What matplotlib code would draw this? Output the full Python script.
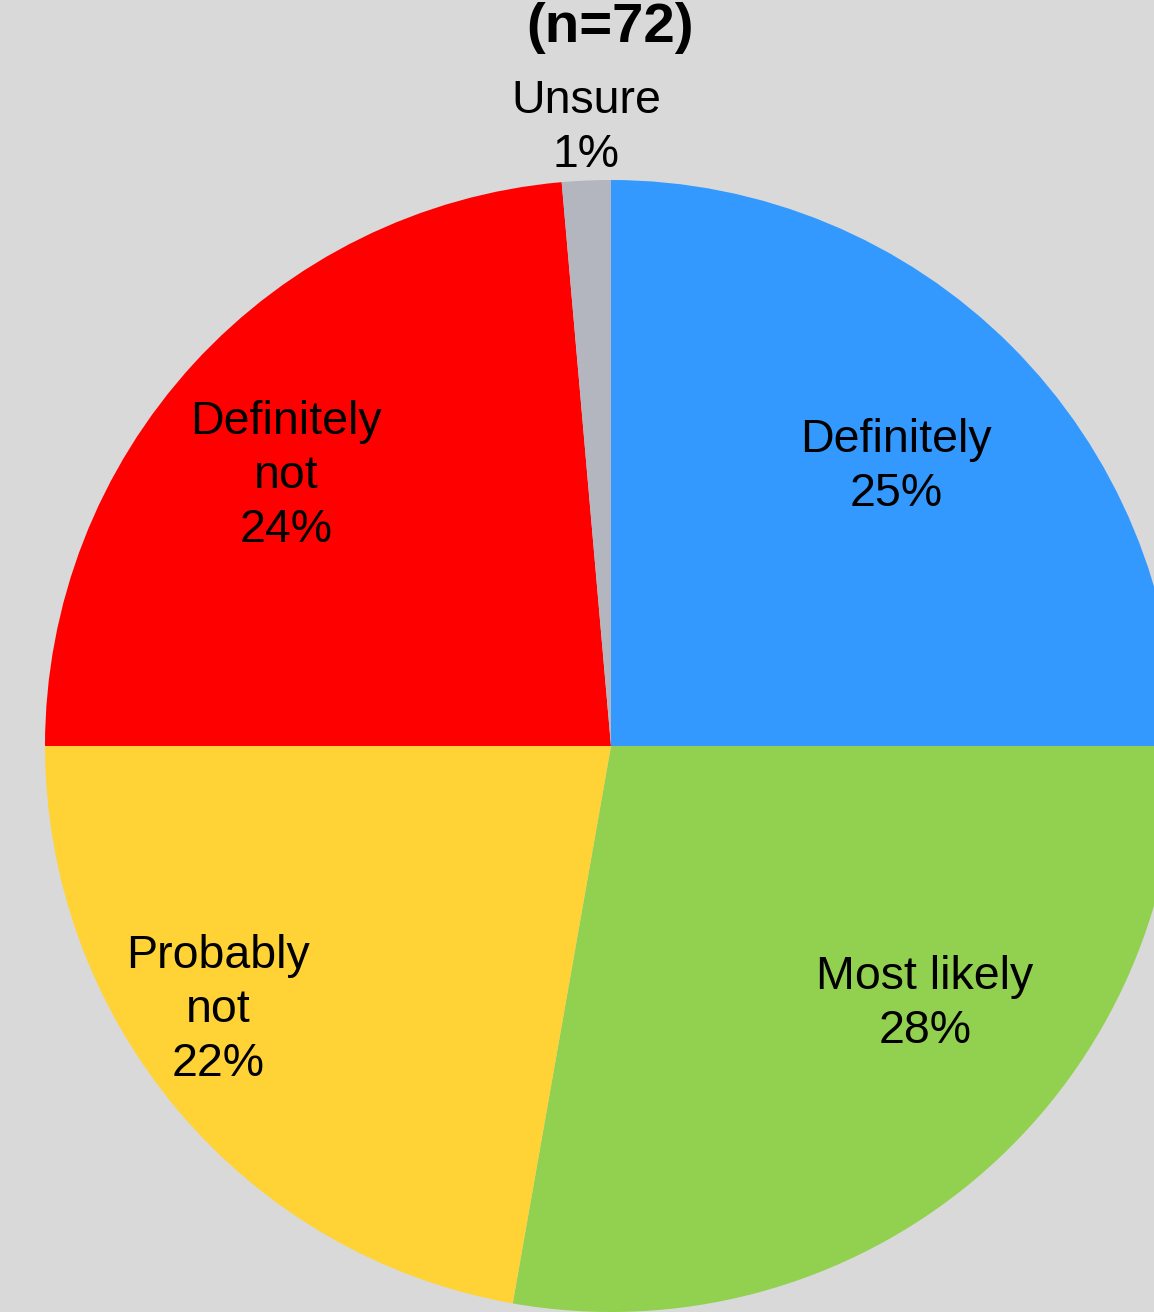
import matplotlib
matplotlib.use("Agg")
import matplotlib.pyplot as plt

# Data
categories = ["Definitely", "Most likely", "Probably not", "Definitely not", "Unsure"]
counts = [18, 20, 16, 17, 1]
percent_labels = ["25%", "28%", "22%", "24%", "1%"]
label_text = ["Definitely", "Most likely", "Probably\nnot", "Definitely\nnot", "Unsure"]
title_text = "(n=72)"

colors = ["#3399FF", "#92D050", "#FFD335", "#FF0000", "#B3B6BE"]
bg = "#D9D9D9"

# label centres in pixel coordinates of the reference
label_px = [(896, 467), (925, 1004), (218, 1010), (286, 476), (586, 128)]

W, H = 1154, 1312
cx, cy, R = 611, 746, 566

plt.rcParams["font.family"] = ["Liberation Sans", "DejaVu Sans"]

fig = plt.figure(figsize=(W / 100, H / 100), dpi=100, facecolor=bg)
ax = fig.add_axes([0, 0, 1, 1])
ax.set_facecolor(bg)

ax.pie(counts, colors=colors, startangle=90, counterclock=False, radius=1.0,
       center=(0, 0), wedgeprops=dict(linewidth=0), frame=True)

ax.set_xlim(-cx / R, (W - cx) / R)
ax.set_ylim(-(H - cy) / R, cy / R)
ax.set_aspect("auto")
ax.axis("off")

for txt, pct, (px, py) in zip(label_text, percent_labels, label_px):
    ax.text((px - cx) / R, (cy - py) / R, f"{txt}\n{pct}", ha="center", va="center",
            fontsize=33.5, color="black", linespacing=1.29)

fig.text(610 / W, 1 - 42 / H, title_text, ha="center", va="baseline",
         fontsize=40.5, fontweight="bold", color="black")

fig.savefig("out.png", dpi=100, facecolor=bg)
